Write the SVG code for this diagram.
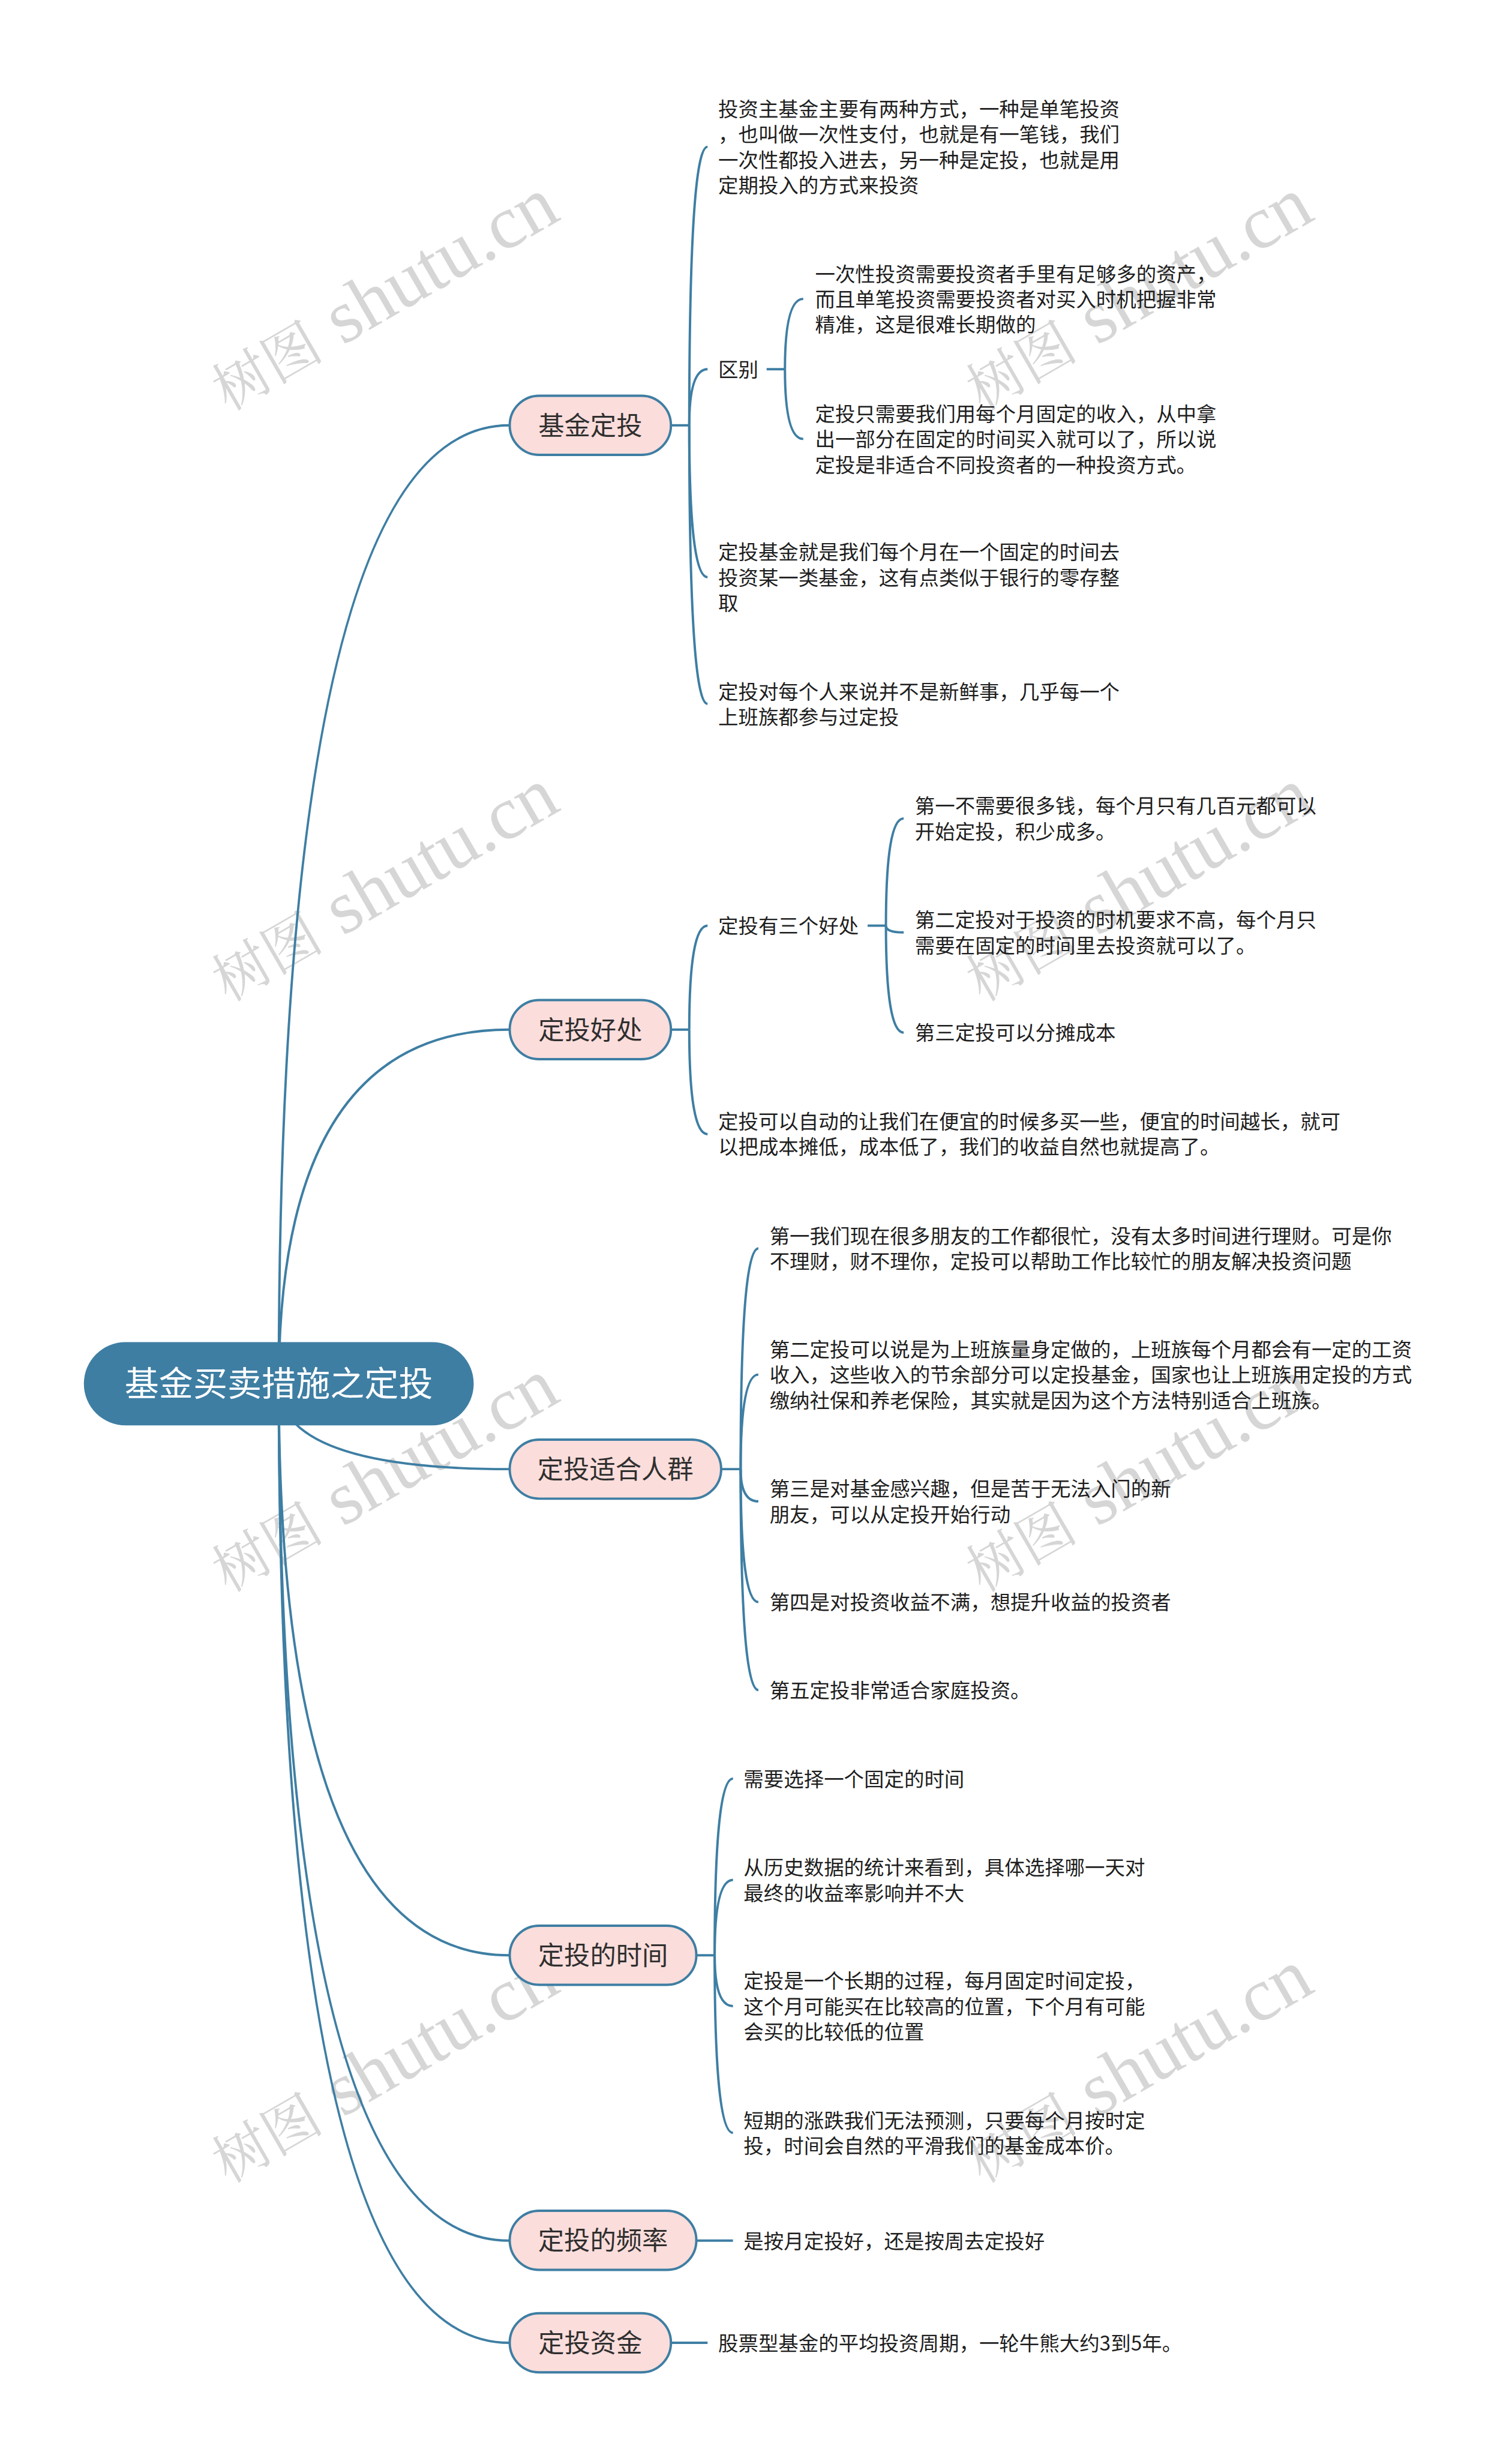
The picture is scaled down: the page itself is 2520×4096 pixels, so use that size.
<svg xmlns="http://www.w3.org/2000/svg" width="2520" height="4096" viewBox="0 0 2520 4096">
<style>
.c{fill:none;stroke:#3e7ea3;stroke-width:4}
.mn rect{fill:#fbdddb;stroke:#3e7ea3;stroke-width:4}
.mt{font-family:"Noto Sans CJK SC","Noto Sans",sans-serif;font-size:44px;fill:#2f2f2f;text-anchor:middle}
.lt{font-family:"Noto Sans CJK SC","Noto Sans",sans-serif;font-size:34px;fill:#1e1e1e}
.rt{font-family:"Noto Sans CJK SC","Noto Sans",sans-serif;font-size:58px;fill:#ffffff;text-anchor:middle}
.wm{font-family:"Liberation Serif","Noto Serif CJK SC","Noto Sans CJK SC",serif;fill:#d6d6d6}
</style>
<rect width="2520" height="4096" fill="#ffffff"/>
<g transform="scale(0.984375)">
<g id="watermarks">
<g transform="translate(386,697) rotate(-30)"><text class="wm"><tspan font-size="95">树图</tspan><tspan font-size="128" dx="34">shutu.cn</tspan></text></g>
<g transform="translate(1663,697) rotate(-30)"><text class="wm"><tspan font-size="95">树图</tspan><tspan font-size="128" dx="34">shutu.cn</tspan></text></g>
<g transform="translate(386,1697) rotate(-30)"><text class="wm"><tspan font-size="95">树图</tspan><tspan font-size="128" dx="34">shutu.cn</tspan></text></g>
<g transform="translate(1663,1697) rotate(-30)"><text class="wm"><tspan font-size="95">树图</tspan><tspan font-size="128" dx="34">shutu.cn</tspan></text></g>
<g transform="translate(386,2697) rotate(-30)"><text class="wm"><tspan font-size="95">树图</tspan><tspan font-size="128" dx="34">shutu.cn</tspan></text></g>
<g transform="translate(1663,2697) rotate(-30)"><text class="wm"><tspan font-size="95">树图</tspan><tspan font-size="128" dx="34">shutu.cn</tspan></text></g>
<g transform="translate(386,3697) rotate(-30)"><text class="wm"><tspan font-size="95">树图</tspan><tspan font-size="128" dx="34">shutu.cn</tspan></text></g>
<g transform="translate(1663,3697) rotate(-30)"><text class="wm"><tspan font-size="95">树图</tspan><tspan font-size="128" dx="34">shutu.cn</tspan></text></g>
</g>
<g id="connectors">
<path class="c" d="M472,2343 Q472,720 862,720"/>
<path class="c" d="M472,2343 Q472,1743 862,1743"/>
<path class="c" d="M472,2343 Q472,2487 862,2487"/>
<path class="c" d="M472,2343 Q472,3310 862,3310"/>
<path class="c" d="M472,2343 Q472,3793 862,3793"/>
<path class="c" d="M472,2343 Q472,3966 862,3966"/>
<path class="c" d="M1136,720 H1167"/>
<path class="c" d="M1167,720 Q1167,248.5 1198,248.5"/>
<path class="c" d="M1167,720 Q1167,625 1198,625"/>
<path class="c" d="M1167,720 Q1167,977 1198,977"/>
<path class="c" d="M1167,720 Q1167,1191.5 1198,1191.5"/>
<path class="c" d="M1298,625 H1329"/>
<path class="c" d="M1329,625 Q1329,506 1360,506"/>
<path class="c" d="M1329,625 Q1329,743 1360,743"/>
<path class="c" d="M1136,1743 H1167"/>
<path class="c" d="M1167,1743 Q1167,1567 1198,1567"/>
<path class="c" d="M1167,1743 Q1167,1920 1198,1920"/>
<path class="c" d="M1469,1567 H1500"/>
<path class="c" d="M1500,1567 Q1500,1385.5 1530,1385.5"/>
<path class="c" d="M1500,1567 Q1500,1578.5 1530,1578.5"/>
<path class="c" d="M1500,1567 Q1500,1748 1530,1748"/>
<path class="c" d="M1221,2487 H1254"/>
<path class="c" d="M1254,2487 Q1254,2113.5 1284,2113.5"/>
<path class="c" d="M1254,2487 Q1254,2327 1284,2327"/>
<path class="c" d="M1254,2487 Q1254,2541.5 1284,2541.5"/>
<path class="c" d="M1254,2487 Q1254,2712 1284,2712"/>
<path class="c" d="M1254,2487 Q1254,2861 1284,2861"/>
<path class="c" d="M1179,3310 H1210"/>
<path class="c" d="M1210,3310 Q1210,3011 1241,3011"/>
<path class="c" d="M1210,3310 Q1210,3182.5 1241,3182.5"/>
<path class="c" d="M1210,3310 Q1210,3396 1241,3396"/>
<path class="c" d="M1210,3310 Q1210,3610.5 1241,3610.5"/>
<path class="c" d="M1179,3793 H1241"/>
<path class="c" d="M1136,3966 H1198"/>
</g>
<g id="root">
<rect x="142" y="2272" width="660" height="141" rx="70.5" fill="#3e7ea3"/>
<text class="rt" x="472" y="2363">基金买卖措施之定投</text>
</g>
<g id="n1" class="mn"><rect x="863" y="670" width="273" height="100" rx="50"/><text class="mt" x="999.5" y="736">基金定投</text></g>
<g id="n2" class="mn"><rect x="863" y="1693" width="273" height="100" rx="50"/><text class="mt" x="999.5" y="1759">定投好处</text></g>
<g id="n3" class="mn"><rect x="863" y="2437" width="358" height="100" rx="50"/><text class="mt" x="1042" y="2503">定投适合人群</text></g>
<g id="n4" class="mn"><rect x="863" y="3260" width="316" height="100" rx="50"/><text class="mt" x="1021" y="3326">定投的时间</text></g>
<g id="n5" class="mn"><rect x="863" y="3742.5" width="316" height="100" rx="50"/><text class="mt" x="1021" y="3809">定投的频率</text></g>
<g id="n6" class="mn"><rect x="863" y="3916" width="273" height="100" rx="50"/><text class="mt" x="999.5" y="3982">定投资金</text></g>
<g id="n1-1"><text class="lt"><tspan x="1216" y="197">投资主基金主要有两种方式，一种是单笔投资</tspan><tspan x="1216" y="240">，也叫做一次性支付，也就是有一笔钱，我们</tspan><tspan x="1216" y="283">一次性都投入进去，另一种是定投，也就是用</tspan><tspan x="1216" y="326">定期投入的方式来投资</tspan></text></g>
<g id="n1-2"><text class="lt" x="1216" y="638">区别</text></g>
<g id="n1-2-1"><text class="lt"><tspan x="1380" y="476">一次性投资需要投资者手里有足够多的资产，</tspan><tspan x="1380" y="519">而且单笔投资需要投资者对买入时机把握非常</tspan><tspan x="1380" y="562">精准，这是很难长期做的</tspan></text></g>
<g id="n1-2-2"><text class="lt"><tspan x="1380" y="713">定投只需要我们用每个月固定的收入，从中拿</tspan><tspan x="1380" y="756">出一部分在固定的时间买入就可以了，所以说</tspan><tspan x="1380" y="799">定投是非适合不同投资者的一种投资方式。</tspan></text></g>
<g id="n1-3"><text class="lt"><tspan x="1216" y="947">定投基金就是我们每个月在一个固定的时间去</tspan><tspan x="1216" y="990">投资某一类基金，这有点类似于银行的零存整</tspan><tspan x="1216" y="1033">取</tspan></text></g>
<g id="n1-4"><text class="lt"><tspan x="1216" y="1183">定投对每个人来说并不是新鲜事，几乎每一个</tspan><tspan x="1216" y="1226">上班族都参与过定投</tspan></text></g>
<g id="n2-1"><text class="lt" x="1216" y="1580">定投有三个好处</text></g>
<g id="n2-1-1"><text class="lt"><tspan x="1549" y="1377">第一不需要很多钱，每个月只有几百元都可以</tspan><tspan x="1549" y="1420">开始定投，积少成多。</tspan></text></g>
<g id="n2-1-2"><text class="lt"><tspan x="1549" y="1570">第二定投对于投资的时机要求不高，每个月只</tspan><tspan x="1549" y="1613">需要在固定的时间里去投资就可以了。</tspan></text></g>
<g id="n2-1-3"><text class="lt" x="1549" y="1761">第三定投可以分摊成本</text></g>
<g id="n2-2"><text class="lt"><tspan x="1216" y="1911">定投可以自动的让我们在便宜的时候多买一些，便宜的时间越长，就可</tspan><tspan x="1216" y="1954">以把成本摊低，成本低了，我们的收益自然也就提高了。</tspan></text></g>
<g id="n3-1"><text class="lt"><tspan x="1303" y="2105">第一我们现在很多朋友的工作都很忙，没有太多时间进行理财。可是你</tspan><tspan x="1303" y="2148">不理财，财不理你，定投可以帮助工作比较忙的朋友解决投资问题</tspan></text></g>
<g id="n3-2"><text class="lt"><tspan x="1303" y="2297">第二定投可以说是为上班族量身定做的，上班族每个月都会有一定的工资</tspan><tspan x="1303" y="2340">收入，这些收入的节余部分可以定投基金，国家也让上班族用定投的方式</tspan><tspan x="1303" y="2383">缴纳社保和养老保险，其实就是因为这个方法特别适合上班族。</tspan></text></g>
<g id="n3-3"><text class="lt"><tspan x="1303" y="2533">第三是对基金感兴趣，但是苦于无法入门的新</tspan><tspan x="1303" y="2576">朋友，可以从定投开始行动</tspan></text></g>
<g id="n3-4"><text class="lt" x="1303" y="2725">第四是对投资收益不满，想提升收益的投资者</text></g>
<g id="n3-5"><text class="lt" x="1303" y="2874">第五定投非常适合家庭投资。</text></g>
<g id="n4-1"><text class="lt" x="1259" y="3024">需要选择一个固定的时间</text></g>
<g id="n4-2"><text class="lt"><tspan x="1259" y="3174">从历史数据的统计来看到，具体选择哪一天对</tspan><tspan x="1259" y="3217">最终的收益率影响并不大</tspan></text></g>
<g id="n4-3"><text class="lt"><tspan x="1259" y="3366">定投是一个长期的过程，每月固定时间定投，</tspan><tspan x="1259" y="3409">这个月可能买在比较高的位置，下个月有可能</tspan><tspan x="1259" y="3452">会买的比较低的位置</tspan></text></g>
<g id="n4-4"><text class="lt"><tspan x="1259" y="3602">短期的涨跌我们无法预测，只要每个月按时定</tspan><tspan x="1259" y="3645">投，时间会自然的平滑我们的基金成本价。</tspan></text></g>
<g id="n5-1"><text class="lt" x="1259" y="3806">是按月定投好，还是按周去定投好</text></g>
<g id="n6-1"><text class="lt" x="1216" y="3979">股票型基金的平均投资周期，一轮牛熊大约3到5年。</text></g>
</g>
</svg>
